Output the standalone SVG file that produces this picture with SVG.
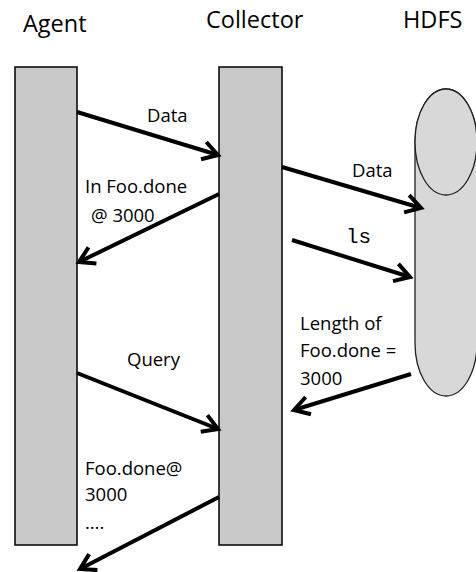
<svg xmlns="http://www.w3.org/2000/svg" width="476" height="572" viewBox="0 0 476 572">
<defs>
<style>
.title{font-family:"Open Sans","Liberation Sans",sans-serif;font-size:23.5px;fill:#000}
.lbl{font-family:"Open Sans","Liberation Sans",sans-serif;font-size:18.5px;fill:#000}
.mono{font-family:"Liberation Mono","DejaVu Sans Mono",monospace;font-size:21px;fill:#000}
.bar{fill:#c8c8c8;stroke:#000;stroke-width:1.5}
.arr{stroke:#000;stroke-width:4;fill:none;marker-end:url(#ah)}
</style>
<marker id="ah" markerUnits="userSpaceOnUse" markerWidth="30" markerHeight="30" viewBox="-20 -15 30 30" refX="0" refY="0" orient="auto" overflow="visible">
<path d="M -15 -9 L 0 0 L -15 9" fill="none" stroke="#000" stroke-width="4" stroke-linejoin="miter"/>
</marker>
</defs>
<rect width="476" height="572" fill="#fff"/>
<g id="agent">
<rect class="bar" x="15" y="67" width="62" height="478"/>
<text class="title" x="23" y="32">Agent</text>
</g>
<g id="collector">
<rect class="bar" x="219" y="67" width="63" height="478"/>
<text class="title" x="206" y="28">Collector</text>
</g>
<g id="hdfs">
<path d="M 415 142 V 343 A 31 53 0 0 0 477 343 V 142 A 31 53 0 0 0 415 142 Z" fill="#d8d8d8" stroke="#222" stroke-width="1.3"/>
<ellipse cx="446" cy="142" rx="31" ry="53" fill="#d8d8d8" stroke="#222" stroke-width="1.3"/>
<text class="title" x="403" y="28">HDFS</text>
</g>
<g id="connectors">
<line class="arr" x1="77" y1="112" x2="218" y2="155"/>
<line class="arr" x1="282" y1="167" x2="421" y2="208"/>
<line class="arr" x1="219" y1="194" x2="79" y2="262"/>
<line class="arr" x1="292" y1="240" x2="410" y2="277"/>
<line class="arr" x1="411" y1="374" x2="294" y2="410"/>
<line class="arr" x1="77" y1="373" x2="218" y2="429"/>
<line class="arr" x1="219" y1="497" x2="80" y2="569"/>
</g>
<g id="labels">
<text class="lbl" x="147" y="122">Data</text>
<text class="lbl" x="352" y="177">Data</text>
<text class="lbl" x="85" y="193">In Foo.done</text>
<text class="lbl" x="91" y="222">@ 3000</text>
<text class="mono" x="346" y="243">ls</text>
<text class="lbl" x="300" y="330">Length of</text>
<text class="lbl" x="300" y="357">Foo.done =</text>
<text class="lbl" x="300" y="385">3000</text>
<text class="lbl" x="127" y="366">Query</text>
<text class="lbl" x="85" y="475">Foo.done@</text>
<text class="lbl" x="85" y="501">3000</text>
<text class="lbl" x="85" y="529">….</text>
</g>
</svg>
